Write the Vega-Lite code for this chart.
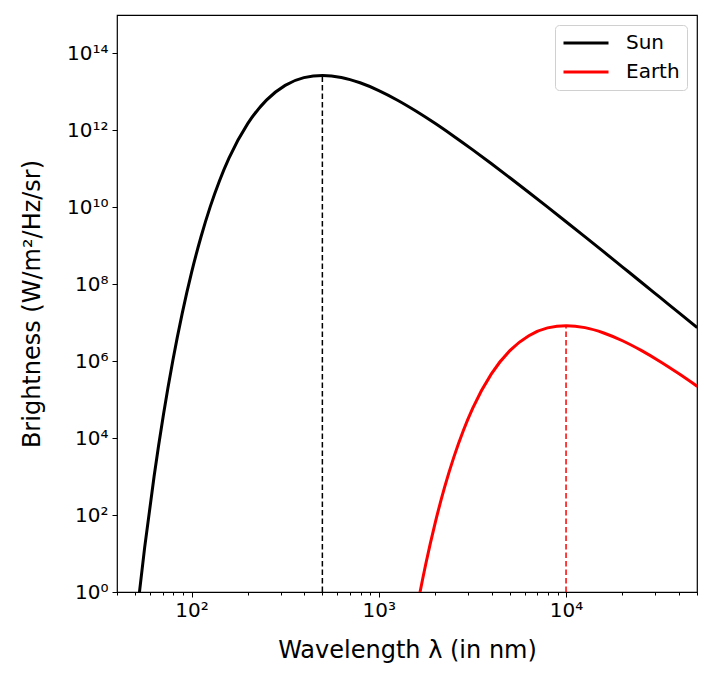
{
  "$schema": "https://vega.github.io/schema/vega-lite/v6.json",
  "width": 580,
  "height": 577,
  "autosize": {"type": "none"},
  "padding": {"left": 117, "top": 15, "right": 15, "bottom": 90},
  "background": "white",
  "config": {
    "font": "DejaVu Sans",
    "view": {"stroke": "#000000", "strokeWidth": 1.2},
    "axis": {
      "domain": false,
      "grid": false,
      "tickColor": "#000000",
      "tickWidth": 1,
      "labelColor": "#000000",
      "titleColor": "#000000",
      "labelFont": "DejaVu Sans",
      "titleFont": "DejaVu Sans",
      "labelFontSize": 20,
      "titleFontSize": 24,
      "titleFontWeight": "normal"
    }
  },
  "datasets": {
    "curves": [
      {"wavelength": 50.12, "brightness": 0.12, "body": "Sun"},
      {"wavelength": 56.23, "brightness": 14.66, "body": "Sun"},
      {"wavelength": 63.10, "brightness": 1005, "body": "Sun"},
      {"wavelength": 70.79, "brightness": 4.05e4, "body": "Sun"},
      {"wavelength": 79.43, "brightness": 1.03e6, "body": "Sun"},
      {"wavelength": 89.13, "brightness": 1.73e7, "body": "Sun"},
      {"wavelength": 100, "brightness": 2.01e8, "body": "Sun"},
      {"wavelength": 112.2, "brightness": 1.67e9, "body": "Sun"},
      {"wavelength": 125.89, "brightness": 1.042e10, "body": "Sun"},
      {"wavelength": 141.25, "brightness": 5.0e10, "body": "Sun"},
      {"wavelength": 158.49, "brightness": 1.90e11, "body": "Sun"},
      {"wavelength": 199.53, "brightness": 1.50e12, "body": "Sun"},
      {"wavelength": 251.19, "brightness": 6.12e12, "body": "Sun"},
      {"wavelength": 316.23, "brightness": 1.48e13, "body": "Sun"},
      {"wavelength": 398.11, "brightness": 2.35e13, "body": "Sun"},
      {"wavelength": 501.19, "brightness": 2.69e13, "body": "Sun"},
      {"wavelength": 630.96, "brightness": 2.38e13, "body": "Sun"},
      {"wavelength": 794.33, "brightness": 1.73e13, "body": "Sun"},
      {"wavelength": 1000, "brightness": 1.086e13, "body": "Sun"},
      {"wavelength": 1258.9, "brightness": 6.10e12, "body": "Sun"},
      {"wavelength": 1584.9, "brightness": 3.15e12, "body": "Sun"},
      {"wavelength": 1995.3, "brightness": 1.53e12, "body": "Sun"},
      {"wavelength": 2511.9, "brightness": 7.06e11, "body": "Sun"},
      {"wavelength": 3162.3, "brightness": 3.16e11, "body": "Sun"},
      {"wavelength": 3981.1, "brightness": 1.38e11, "body": "Sun"},
      {"wavelength": 5011.9, "brightness": 5.87e10, "body": "Sun"},
      {"wavelength": 6309.6, "brightness": 2.47e10, "body": "Sun"},
      {"wavelength": 7943.3, "brightness": 1.028e10, "body": "Sun"},
      {"wavelength": 10000, "brightness": 4.23e9, "body": "Sun"},
      {"wavelength": 12589, "brightness": 1.73e9, "body": "Sun"},
      {"wavelength": 15849, "brightness": 7.03e8, "body": "Sun"},
      {"wavelength": 19953, "brightness": 2.84e8, "body": "Sun"},
      {"wavelength": 25119, "brightness": 1.148e8, "body": "Sun"},
      {"wavelength": 31623, "brightness": 4.61e7, "body": "Sun"},
      {"wavelength": 39811, "brightness": 1.85e7, "body": "Sun"},
      {"wavelength": 50119, "brightness": 7.43e6, "body": "Sun"},
      {"wavelength": 1415.8, "brightness": 0.01265, "body": "Earth"},
      {"wavelength": 1588.6, "brightness": 0.322, "body": "Earth"},
      {"wavelength": 1782.6, "brightness": 5.41, "body": "Earth"},
      {"wavelength": 2000, "brightness": 62.8, "body": "Earth"},
      {"wavelength": 2244, "brightness": 524, "body": "Earth"},
      {"wavelength": 2517.8, "brightness": 3258, "body": "Earth"},
      {"wavelength": 2825, "brightness": 1.56e4, "body": "Earth"},
      {"wavelength": 3169.8, "brightness": 5.93e4, "body": "Earth"},
      {"wavelength": 3990.6, "brightness": 4.69e5, "body": "Earth"},
      {"wavelength": 5023.8, "brightness": 1.91e6, "body": "Earth"},
      {"wavelength": 6324.6, "brightness": 4.61e6, "body": "Earth"},
      {"wavelength": 7962.2, "brightness": 7.35e6, "body": "Earth"},
      {"wavelength": 10023.8, "brightness": 8.40e6, "body": "Earth"},
      {"wavelength": 12619, "brightness": 7.45e6, "body": "Earth"},
      {"wavelength": 15887, "brightness": 5.42e6, "body": "Earth"},
      {"wavelength": 20000, "brightness": 3.40e6, "body": "Earth"},
      {"wavelength": 25178, "brightness": 1.905e6, "body": "Earth"},
      {"wavelength": 31698, "brightness": 9.84e5, "body": "Earth"},
      {"wavelength": 39906, "brightness": 4.77e5, "body": "Earth"},
      {"wavelength": 50238, "brightness": 2.21e5, "body": "Earth"}
    ],
    "peaks": [
      {"wavelength": 499.6, "low": 1, "peak": 2.69e13, "body": "Sun"},
      {"wavelength": 9993, "low": 1, "peak": 8.40e6, "body": "Earth"}
    ]
  },
  "layer": [
    {
      "data": {"name": "curves"},
      "mark": {"type": "line", "strokeWidth": 3, "clip": true, "interpolate": "monotone"},
      "encoding": {
        "x": {
          "field": "wavelength",
          "type": "quantitative",
          "scale": {"type": "log", "domain": [40, 50000], "nice": false},
          "title": "Wavelength λ (in nm)",
          "axis": {
            "values": [40, 50, 60, 70, 80, 90, 100, 200, 300, 400, 500, 600, 700, 800, 900, 1000, 2000, 3000, 4000, 5000, 6000, 7000, 8000, 9000, 10000, 20000, 30000, 40000, 50000],
            "labelExpr": "datum.value == 100 ? '10²' : datum.value == 1000 ? '10³' : datum.value == 10000 ? '10⁴' : ''",
            "tickSize": {"condition": {"test": "datum.value == 100 || datum.value == 1000 || datum.value == 10000", "value": 5}, "value": 3},
            "labelPadding": 3,
            "titlePadding": 18
          }
        },
        "y": {
          "field": "brightness",
          "type": "quantitative",
          "scale": {"type": "log", "domain": [1, 1e15], "nice": false},
          "title": "Brightness (W/m²/Hz/sr)",
          "axis": {
            "values": [1, 1e2, 1e4, 1e6, 1e8, 1e10, 1e12, 1e14],
            "labelExpr": "datum.value == 1 ? '10⁰' : datum.value == 100 ? '10²' : datum.value == 10000 ? '10⁴' : datum.value == 1e6 ? '10⁶' : datum.value == 1e8 ? '10⁸' : datum.value == 1e10 ? '10¹⁰' : datum.value == 1e12 ? '10¹²' : '10¹⁴'",
            "tickSize": 5,
            "labelPadding": 4,
            "titlePadding": 22
          }
        },
        "color": {
          "field": "body",
          "type": "nominal",
          "scale": {"domain": ["Sun", "Earth"], "range": ["#000000", "#ff0000"]},
          "title": null,
          "legend": {
            "orient": "top-right",
            "offset": 10,
            "symbolType": "stroke",
            "symbolStrokeWidth": 3,
            "symbolSize": 2025,
            "clipHeight": 22,
            "labelFontSize": 20,
            "labelFont": "DejaVu Sans",
            "labelColor": "#000000",
            "strokeColor": "#d0d0d0",
            "fillColor": "#ffffff",
            "cornerRadius": 4,
            "padding": 7,
            "rowPadding": 7,
            "labelOffset": 16
          }
        }
      }
    },
    {
      "data": {"name": "peaks"},
      "mark": {"type": "rule", "strokeDash": [5.5, 3], "strokeWidth": 1.5, "clip": true},
      "encoding": {
        "x": {"field": "wavelength", "type": "quantitative"},
        "y": {"field": "low", "type": "quantitative"},
        "y2": {"field": "peak"},
        "color": {"field": "body", "type": "nominal"}
      }
    }
  ]
}
